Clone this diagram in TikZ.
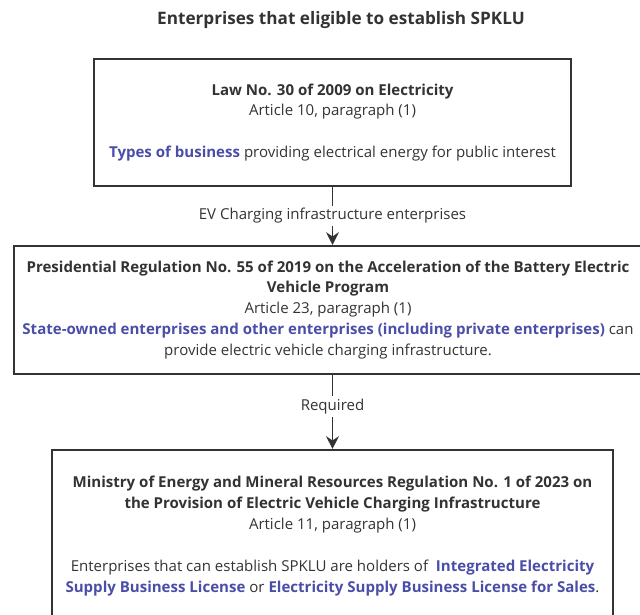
\documentclass[tikz,border=0pt]{standalone}
\usepackage{fontspec}
\setmainfont{Open Sans}
\usepackage{xcolor}
\usetikzlibrary{positioning, arrows.meta}

\definecolor{lawblue}{HTML}{4A4EA8}
\definecolor{inkgray}{HTML}{333333}
\newcommand{\hlblue}[1]{\textbf{\color{lawblue}#1}}

\begin{document}
\begin{tikzpicture}[->,>={Stealth[length=9pt,width=9pt]},line width=1.4pt,draw=inkgray,
                    law box/.style={rectangle,draw=inkgray,line width=1.4pt,align=center,text=inkgray,
                                    inner sep=0pt,font=\fontsize{10.7}{14.9}\selectfont},
                    link label/.style={fill=white,text=inkgray,inner sep=2pt,font=\fontsize{10.7}{13}\selectfont}]

        \useasboundingbox (0,0) rectangle (16,-15.35);
        \clip (0,0) rectangle (16,-15.35);

        \node[text=inkgray,font=\fontsize{12.2}{14}\selectfont\bfseries] (title) at (8.525,-0.5)
            {Enterprises that eligible to establish SPKLU};

        \node[law box,minimum width=11.925cm,minimum height=3.175cm] (law) at (8.3125,-3.0625)
            {\textbf{Law No. 30 of 2009 on Electricity}\\
             Article 10, paragraph (1)\\[\baselineskip]
             \hlblue{Types of business} providing electrical energy for public interest};

        \node[law box,minimum width=15.7cm,minimum height=3.2cm] (perpres) [below=1.45cm of law,xshift=-0.1125cm]
            {\textbf{Presidential Regulation No. 55 of 2019 on the Acceleration of the Battery Electric}\\
             \textbf{Vehicle Program}\\
             Article 23, paragraph (1)\\
             \hlblue{State-owned enterprises and other enterprises (including private enterprises)} can\\
             provide electric vehicle charging infrastructure.};

        \node[law box,minimum width=14.025cm,minimum height=4.3cm] (permen) [below=1.85cm of perpres,xshift=0.1125cm]
            {\textbf{Ministry of Energy and Mineral Resources Regulation No. 1 of 2023 on}\\
             \textbf{the Provision of Electric Vehicle Charging Infrastructure}\\
             Article 11, paragraph (1)\\[\baselineskip]
             Enterprises that can establish SPKLU are holders of \ \hlblue{Integrated Electricity}\\
             \hlblue{Supply Business License} or \hlblue{Electricity Supply Business License for Sales}.};

        \draw (law.south) -- node[link label,pos=0.5] {EV Charging infrastructure enterprises} (law.south |- perpres.north);
        \draw (permen.north |- perpres.south) -- node[link label,pos=0.43] {Required} (permen.north);
\end{tikzpicture}
\end{document}
